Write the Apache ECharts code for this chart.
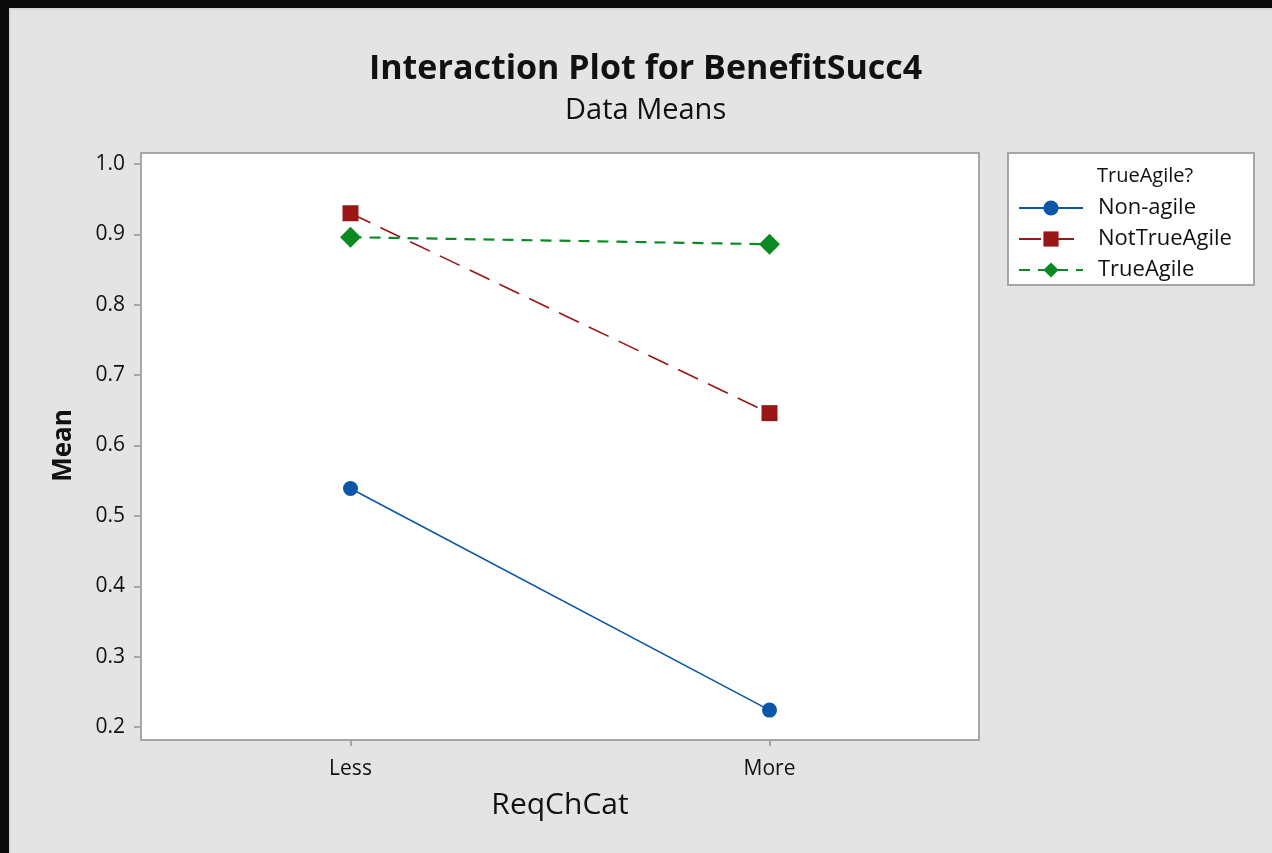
<!DOCTYPE html>
<html>
<head>
<meta charset="utf-8">
<script src="https://cdn.jsdelivr.net/npm/echarts@6/dist/echarts.min.js"></script>
<style>
  html, body { margin: 0; padding: 0; background: #0a0a0a; }
  #bg { position: absolute; left: 9px; top: 8px; width: 1263px; height: 845px; background: #e4e4e4; box-sizing: border-box; border-left: 2px solid #d6d6d6; border-top: 2px solid #d6d6d6; }
  #chart { position: absolute; left: 0; top: 0; width: 1272px; height: 853px; }
</style>
</head>
<body>
<div id="bg"></div>
<div id="chart"></div>
<script>
const categories = ['Less', 'More'];
const nonAgile = [0.539, 0.224];
const notTrueAgile = [0.930, 0.646];
const trueAgile = [0.896, 0.886];
const seriesNames = ['Non-agile', 'NotTrueAgile', 'TrueAgile'];
const yTicks = { min: 0.2, max: 1.0, step: 0.1 };

const FONT = 'Open Sans';
const chart = echarts.init(document.getElementById('chart'), null, { renderer: 'canvas' });

const option = {
  backgroundColor: 'transparent',
  textStyle: { fontFamily: FONT },
  title: [
    {
      text: 'Interaction Plot for BenefitSucc4',
      left: 369,
      top: 52,
      padding: 0,
      textStyle: { fontFamily: FONT, fontSize: 34, fontWeight: 'bold', color: '#111' }
    },
    {
      text: 'Data Means',
      left: 565,
      top: 96,
      padding: 0,
      textStyle: { fontFamily: FONT, fontSize: 29, fontWeight: 'normal', color: '#111' }
    },
    {
      text: 'TrueAgile?',
      left: 1097,
      top: 166,
      padding: 0,
      textStyle: { fontFamily: FONT, fontSize: 20, fontWeight: 'normal', color: '#111' }
    }
  ],
  graphic: [
    {
      type: 'rect', z: -5,
      shape: { x: 141, y: 153, width: 838, height: 587 },
      style: { fill: '#ffffff', stroke: '#a6a6a6', lineWidth: 2 }
    },
    {
      type: 'rect', z: -5,
      shape: { x: 1008, y: 153, width: 246, height: 132 },
      style: { fill: '#ffffff', stroke: '#a6a6a6', lineWidth: 2 }
    }
  ],
  legend: {
    orient: 'vertical',
    left: 1018,
    top: 197,
    padding: 0,
    itemWidth: 64,
    itemHeight: 19,
    itemGap: 9,
    data: seriesNames,
    textStyle: { fontFamily: FONT, fontSize: 22, lineHeight: 20, color: '#111', padding: [0, 0, 0, 10] }
  },
  grid: { left: 141, right: 293, top: 164, bottom: 126, containLabel: false },
  xAxis: {
    type: 'category',
    data: categories,
    boundaryGap: true,
    offset: 13,
    name: 'ReqChCat',
    nameLocation: 'middle',
    nameGap: 50,
    nameTextStyle: { fontFamily: FONT, fontSize: 30, color: '#111' },
    axisLine: { show: false },
    axisTick: { show: true, alignWithLabel: true, length: 6, lineStyle: { color: '#a6a6a6', width: 2 } },
    axisLabel: { fontFamily: FONT, fontSize: 21, color: '#111', margin: 19 },
    splitLine: { show: false }
  },
  yAxis: {
    type: 'value',
    min: yTicks.min,
    max: yTicks.max,
    interval: yTicks.step,
    name: 'Mean',
    nameLocation: 'middle',
    nameGap: 64,
    nameTextStyle: { fontFamily: FONT, fontSize: 26, fontWeight: 'bold', color: '#111' },
    axisLine: { show: false },
    axisTick: { show: true, length: 7, lineStyle: { color: '#a6a6a6', width: 2 } },
    axisLabel: { fontFamily: FONT, fontSize: 21, color: '#111', margin: 16, formatter: v => v.toFixed(1) },
    splitLine: { show: false }
  },
  series: [
    {
      name: seriesNames[0], type: 'line', data: nonAgile,
      symbol: 'circle', symbolSize: 15,
      itemStyle: { color: '#0a56a8' },
      lineStyle: { color: '#0a56a8', width: 1.6, type: 'solid' }
    },
    {
      name: seriesNames[1], type: 'line', data: notTrueAgile,
      symbol: 'rect', symbolSize: 16,
      itemStyle: { color: '#9a1515' },
      lineStyle: { color: '#9a1515', width: 1.6, type: [22, 11] }
    },
    {
      name: seriesNames[2], type: 'line', data: trueAgile,
      symbol: 'diamond', symbolSize: 21,
      itemStyle: { color: '#0b8a24' },
      lineStyle: { color: '#0b8a24', width: 2.2, type: [11, 8] }
    }
  ]
};
chart.setOption(option);
</script>
</body>
</html>
